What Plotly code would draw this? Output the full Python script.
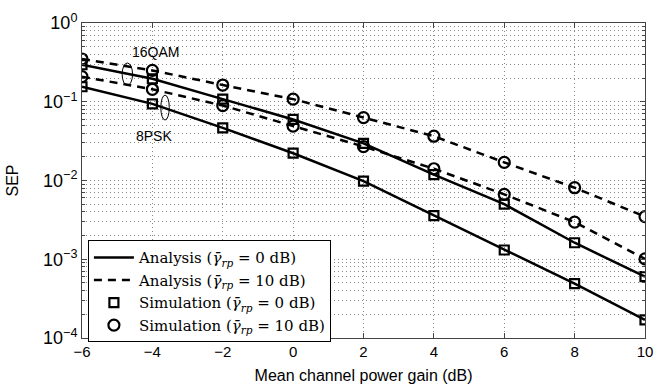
import plotly.graph_objects as go

# ---- data ----
gain_db = [-6, -4, -2, 0, 2, 4, 6, 8, 10]
qam16_0db = [0.295, 0.196, 0.108, 0.0596, 0.0296, 0.0119, 0.0050, 0.00162, 0.00060]
qam16_10db = [0.349, 0.25, 0.163, 0.108, 0.063, 0.0365, 0.017, 0.0081, 0.00348]
psk8_0db = [0.155, 0.094, 0.0465, 0.0222, 0.0098, 0.00359, 0.00131, 0.00049, 0.00017]
psk8_10db = [0.208, 0.144, 0.0895, 0.049, 0.027, 0.0141, 0.00668, 0.00296, 0.00101]

x_ticks = [-6, -4, -2, 0, 2, 4, 6, 8, 10]
y_tickvals = [1e-4, 1e-3, 1e-2, 1e-1, 1]
y_ticktext = ["10<sup>\u22124</sup>", "10<sup>\u22123</sup>", "10<sup>\u22122</sup>",
              "10<sup>\u22121</sup>", "10<sup>0</sup>"]
minor_mult = [2, 3, 4, 5, 6, 7, 8, 9]
y_minor = [m * d for d in [1e-4, 1e-3, 1e-2, 1e-1] for m in minor_mult]

g = "<i>\u03b3\u0304</i><sub><i>rp</i></sub>"
names = {
    "a0": f"Analysis ({g} = 0 dB)",
    "a10": f"Analysis ({g} = 10 dB)",
    "s0": f"Simulation ({g} = 0 dB)",
    "s10": f"Simulation ({g} = 10 dB)",
}

fig = go.Figure()

for i, y in enumerate([qam16_0db, psk8_0db]):
    fig.add_trace(go.Scatter(x=gain_db, y=y, mode="lines", name=names["a0"],
                             line=dict(color="black", width=2.5),
                             showlegend=(i == 0), legendgroup="a0"))
for i, y in enumerate([qam16_10db, psk8_10db]):
    fig.add_trace(go.Scatter(x=gain_db, y=y, mode="lines", name=names["a10"],
                             line=dict(color="black", width=2.5, dash="8px,6px"),
                             showlegend=(i == 0), legendgroup="a10"))
for i, y in enumerate([qam16_0db, psk8_0db]):
    fig.add_trace(go.Scatter(x=gain_db, y=y, mode="markers", name=names["s0"],
                             marker=dict(symbol="square-open", size=9, color="black",
                                         line=dict(width=2.2, color="black")),
                             showlegend=(i == 0), legendgroup="s0"))
for i, y in enumerate([qam16_10db, psk8_10db]):
    fig.add_trace(go.Scatter(x=gain_db, y=y, mode="markers", name=names["s10"],
                             marker=dict(symbol="circle-open", size=11, color="black",
                                         line=dict(width=2.2, color="black")),
                             showlegend=(i == 0), legendgroup="s10"))

grid_color = "#8a8a8a"
grid_dash = "1px,3px"
sans = "Liberation Sans, Arial, sans-serif"
fig.update_xaxes(
    range=[-6, 10], tickvals=x_ticks, ticks="inside", ticklen=5, tickcolor="#444",
    showline=True, linecolor="#444", linewidth=1, mirror="allticks",
    showgrid=True, gridcolor=grid_color, griddash=grid_dash, gridwidth=1,
    zeroline=False,
    tickfont=dict(family=sans, size=15, color="black"),
    title=dict(text="Mean channel power gain (dB)", standoff=10,
               font=dict(family=sans, size=16, color="black")),
)
fig.update_yaxes(
    type="log", range=[-4, 0], tickvals=y_tickvals, ticktext=y_ticktext,
    ticks="inside", ticklen=5, tickcolor="#444",
    showline=True, linecolor="#444", linewidth=1, mirror="allticks",
    showgrid=True, gridcolor=grid_color, griddash=grid_dash, gridwidth=1,
    minor=dict(tickmode="array", tickvals=y_minor, ticks="inside", ticklen=3,
               tickcolor="#444", showgrid=True,
               gridcolor=grid_color, griddash=grid_dash, gridwidth=1),
    tickfont=dict(family=sans, size=18, color="black"),
    title=dict(text="SEP", standoff=20,
               font=dict(family=sans, size=16, color="black")),
)

fig.add_annotation(x=-3.9, y=-0.37, text="16QAM", showarrow=False,
                   font=dict(family=sans, size=14, color="black"))
fig.add_annotation(x=-3.95, y=-1.43, text="8PSK", showarrow=False,
                   font=dict(family=sans, size=14, color="black"))
fig.add_shape(type="circle", xref="paper", yref="paper", x0=0.0713, x1=0.0898,
              y0=0.802, y1=0.873, line=dict(color="black", width=1))
fig.add_shape(type="circle", xref="paper", yref="paper", x0=0.140, x1=0.155,
              y0=0.692, y1=0.771, line=dict(color="black", width=1))

fig.update_layout(
    width=663, height=391,
    margin=dict(l=82, r=10, t=23, b=49),
    paper_bgcolor="white", plot_bgcolor="white",
    legend=dict(x=0.0105, y=0.31, xanchor="left", yanchor="top",
                bgcolor="white", bordercolor="black", borderwidth=1,
                font=dict(family="DejaVu Serif, serif", size=15, color="black"),
                tracegroupgap=0, itemwidth=40,
                entrywidthmode="pixels", entrywidth=225),
    showlegend=True,
)

fig.write_html("out.html")
